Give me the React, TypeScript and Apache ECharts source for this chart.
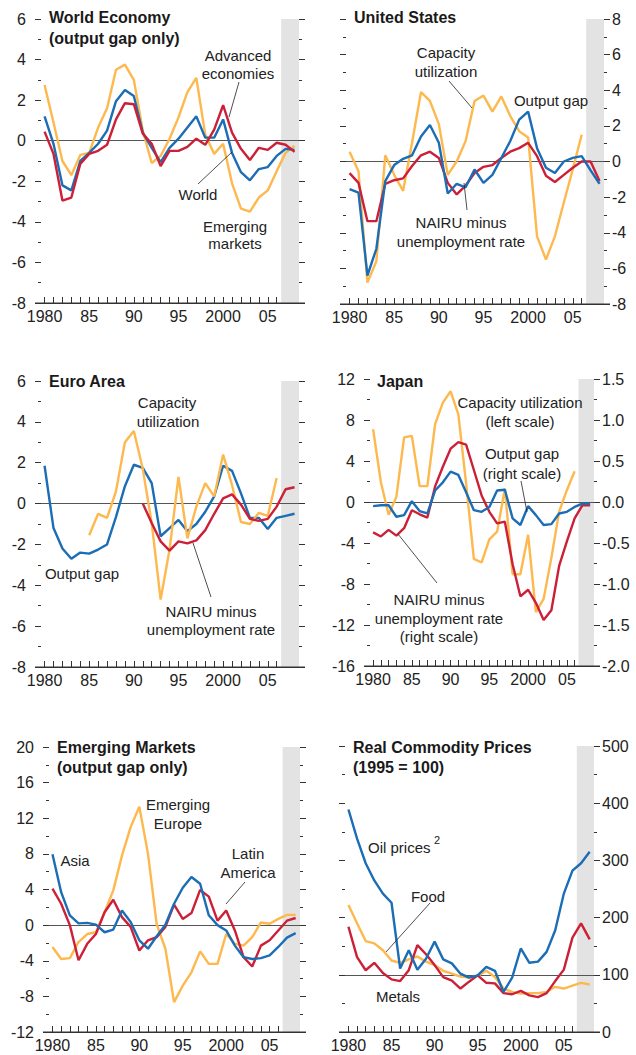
import React, { useEffect, useRef } from "react";
import * as echarts from "echarts";

const YEARS = [1980, 1981, 1982, 1983, 1984, 1985, 1986, 1987, 1988, 1989, 1990, 1991, 1992, 1993, 1994, 1995, 1996, 1997, 1998, 1999, 2000, 2001, 2002, 2003, 2004, 2005, 2006, 2007, 2008];
const X_LABELS = [1980, 1985, 1990, 1995, 2000, 2005];

// World Economy
const WORLD_EM = [2.75, 0.9, -1.0, -1.7, -0.7, -0.6, 0.65, 1.6, 3.5, 3.75, 3.0, 0.5, -1.1, -0.75, 0.1, 1.15, 2.4, 3.1, 0.3, -0.65, -0.15, -2.1, -3.35, -3.5, -2.8, -2.45, -1.5, -0.6, -0.25];
const WORLD_WORLD = [1.2, -0.15, -2.2, -2.45, -1.0, -0.6, -0.15, 0.5, 1.95, 2.5, 2.2, 0.4, -0.35, -1.05, -0.35, 0.1, 0.65, 1.2, 0.15, 0.15, 1.05, -0.6, -1.55, -1.95, -1.4, -1.3, -0.75, -0.4, -0.45];
const WORLD_ADV = [0.45, -0.65, -2.95, -2.8, -1.15, -0.65, -0.5, -0.2, 1.05, 1.85, 1.8, 0.35, -0.15, -1.25, -0.5, -0.5, -0.3, 0.1, -0.2, 0.55, 1.75, 0.4, -0.4, -0.95, -0.35, -0.45, -0.1, -0.2, -0.55];

// United States
const US_CAP = [0.55, -0.55, -6.8, -5.6, 0.35, -0.75, -1.65, 1.05, 3.9, 3.4, 2.1, -0.75, 0, 1.15, 3.4, 3.7, 2.8, 3.65, 2.55, 1.7, 1.35, -4.2, -5.5, -4.2, -2.3, -0.45, 1.5, null, null];
const US_GAP = [-1.55, -1.75, -6.4, -4.9, -1.1, -0.2, 0.15, 0.35, 1.4, 2.05, 1.05, -1.8, -1.25, -1.45, -0.45, -1.2, -0.75, 0.2, 1.15, 2.35, 2.8, 0.75, -0.35, -0.65, 0, 0.2, 0.3, -0.5, -1.25];
const US_NAIRU = [-0.65, -1.2, -3.35, -3.35, -1.25, -1.05, -0.95, -0.25, 0.35, 0.55, 0.2, -1.2, -1.85, -1.35, -0.65, -0.3, -0.2, 0.2, 0.55, 0.75, 1.05, 0.3, -0.8, -1.15, -0.75, -0.35, 0, 0, -1.1];

// Euro Area
const EU_GAP = [1.85, -1.2, -2.2, -2.7, -2.4, -2.45, -2.25, -2.0, -0.65, 0.85, 1.9, 1.75, 1.0, -1.6, -1.2, -0.8, -1.35, -1.0, -0.4, 0.35, 1.85, 1.6, 0.5, -0.7, -0.7, -1.25, -0.7, -0.6, -0.5];
const EU_CAP = [null, null, null, null, null, -1.55, -0.5, -0.7, 0.6, 3.0, 3.55, 1.7, -0.95, -4.7, -2.25, 1.3, -1.7, -0.15, 1.0, 0.35, 2.4, 0.9, -0.9, -1.0, -0.45, -0.6, 1.25, null, null];
const EU_NAIRU = [null, null, null, null, null, null, null, null, null, null, null, 0, -0.95, -1.85, -2.3, -1.85, -1.95, -1.8, -1.3, -0.5, 0.25, 0.45, -0.05, -0.75, -0.85, -0.75, -0.15, 0.7, 0.8];

// Japan
const JP_CAP = [7.1, 1.95, -1.25, 0.5, 6.3, 6.45, 1.55, 1.55, 7.6, 9.7, 10.8, 8.55, 1.8, -5.55, -5.9, -3.65, -2.9, 1.3, -7.05, -7.05, -3.2, -10.75, -9.45, -5.45, -0.95, 1.15, 3.0, null, null];
const JP_GAP = [-0.05, -0.04, -0.04, -0.18, -0.16, 0.01, -0.11, -0.14, 0.14, 0.24, 0.37, 0.33, 0.12, -0.1, -0.12, -0.06, 0.14, 0.15, -0.2, -0.28, -0.05, -0.16, -0.28, -0.27, -0.14, -0.12, -0.06, -0.02, -0.02];
const JP_NAIRU = [-0.37, -0.42, -0.34, -0.41, -0.32, -0.1, -0.15, -0.19, 0.19, 0.43, 0.65, 0.73, 0.7, 0.39, 0.08, -0.12, -0.26, -0.24, -0.76, -1.15, -1.07, -1.23, -1.44, -1.32, -0.78, -0.48, -0.2, -0.04, -0.04];

// Emerging Markets
const EM_EUROPE = [-2.45, -3.8, -3.7, -1.9, -1.0, -0.8, 1.45, 3.9, 7.8, 11.0, 13.3, 8.0, 0.1, -2.65, -8.65, -6.8, -5.3, -2.95, -4.35, -4.35, -1.0, -2.1, -2.3, -1.35, 0.3, 0.15, 0.7, 1.15, 1.15];
const EM_ASIA = [7.95, 3.7, 1.1, 0.2, 0.25, 0.05, -0.8, -0.5, 1.65, 0.35, -1.7, -2.65, -1.25, 0.05, 2.4, 4.2, 5.4, 4.65, 1.1, 0, -0.6, -2.3, -3.6, -3.8, -3.7, -3.4, -2.45, -1.4, -0.9];
const EM_LATAM = [4.1, 2.4, 0, -3.95, -2.1, -1.0, 1.45, 2.85, 0.9, -0.2, -2.85, -1.7, -1.35, -0.2, 2.3, 0.7, 1.35, 3.95, 3.2, 0.5, 1.65, -0.6, -3.6, -4.65, -2.3, -1.7, -0.6, 0.5, 0.8];

// Real Commodity Prices (1995 = 100)
const OIL = [389, 338, 295, 265, 242, 226, 111, 143, 109, 128, 158, 127, 120, 102, 95, 99, 114, 107, 70, 95, 146, 121, 123, 140, 178, 242, 282, 295, 315];
const FOOD = [222, 190, 159, 155, 143, 125, 121, 127, 132, 123, 117, 107, 102, 97, 95, 98, 107, 96, 76, 70, 67, 68, 68, 70, 79, 76, 81, 86, 83];
const METALS = [184, 131, 108, 121, 103, 92, 89, 108, 152, 136, 117, 96, 90, 76, 88, 99, 86, 85, 68, 66, 72, 64, 61, 68, 89, 109, 165, 190, 162];

const BLUE = "#1b6db5";
const RED = "#cc1f38";
const ORANGE = "#fdb84e";
const AXIS = "#333333";
const FONT = "'Liberation Sans', Arial, sans-serif";

const GRIDS = [
  { left: 41, top: 19, width: 258, height: 284 },
  { left: 346, top: 19, width: 258, height: 285 },
  { left: 41, top: 381, width: 258, height: 286 },
  { left: 370, top: 379, width: 224, height: 287 },
  { left: 49, top: 747, width: 251, height: 285 },
  { left: 345, top: 746, width: 249, height: 286 },
];

type YSpec = { min: number; max: number; interval: number; labels: boolean; fmt?: (v: number) => string };
const Y_SPECS: [YSpec, YSpec][] = [
  [{ min: -8, max: 6, interval: 2, labels: true }, { min: -8, max: 6, interval: 2, labels: false }],
  [{ min: -8, max: 8, interval: 2, labels: false }, { min: -8, max: 8, interval: 2, labels: true }],
  [{ min: -8, max: 6, interval: 2, labels: true }, { min: -8, max: 6, interval: 2, labels: false }],
  [{ min: -16, max: 12, interval: 4, labels: true }, { min: -2, max: 1.5, interval: 0.5, labels: true, fmt: (v) => v.toFixed(1) }],
  [{ min: -12, max: 20, interval: 4, labels: true }, { min: -12, max: 20, interval: 4, labels: false }],
  [{ min: 0, max: 500, interval: 100, labels: false }, { min: 0, max: 500, interval: 100, labels: true }],
];

const pairs = (vals: (number | null)[]) => YEARS.map((y, i) => [y, vals[i]]);

function xLabel(v: number) {
  return v === 1980 || v === 2000 ? String(v) : String(v % 100).padStart(2, "0");
}

export default function App() {
  const ref = useRef<HTMLDivElement>(null);
  useEffect(() => {
    if (!ref.current) return;
    const chart = echarts.init(ref.current, null, { renderer: "svg" });

    const grid = GRIDS.map((g) => ({ ...g, containLabel: false }));
    const xAxis = GRIDS.map((_, i) => ({
      type: "value",
      gridIndex: i,
      min: 1979.6,
      max: 2008.5,
      axisLine: { show: true, onZero: false, lineStyle: { color: AXIS, width: 1 } },
      axisTick: { show: true, inside: true, length: 6, customValues: YEARS, lineStyle: { color: AXIS, width: 1 } },
      axisLabel: { show: true, customValues: X_LABELS, formatter: xLabel, color: "#222", fontSize: 16, fontFamily: FONT, margin: 5 },
      splitLine: { show: false },
    }));
    const yAxis: any[] = [];
    Y_SPECS.forEach((pair, i) => {
      pair.forEach((s, j) => {
        yAxis.push({
          type: "value",
          gridIndex: i,
          position: j === 0 ? "left" : "right",
          min: s.min,
          max: s.max,
          interval: s.interval,
          axisLine: { show: false },
          axisTick: { show: true, inside: false, length: 6, lineStyle: { color: AXIS, width: 1 } },
          minorTick: { show: true, splitNumber: 2, length: 3, lineStyle: { color: AXIS, width: 1 } },
          axisLabel: {
            show: s.labels,
            color: "#222",
            fontSize: 16,
            fontFamily: FONT,
            margin: j === 0 ? 15 : 8,
            formatter: s.fmt ? s.fmt : (v: number) => String(v),
          },
          splitLine: { show: false },
          minorSplitLine: { show: false },
        });
      });
    });

    const band = {
      silent: true,
      itemStyle: { color: "#e3e3e3" },
      data: [[{ xAxis: 2006.5 }, { xAxis: 2008.5 }]],
    };
    const base = (v: number) => ({
      silent: true,
      symbol: ["none", "none"],
      z: 1,
      label: { show: false },
      lineStyle: { color: "#555", width: 1, type: "solid" },
      data: [{ yAxis: v }],
    });

    const mk = (grid: number, side: number, vals: (number | null)[], color: string, extra: any = {}) => ({
      type: "line",
      xAxisIndex: grid,
      yAxisIndex: grid * 2 + side,
      data: pairs(vals),
      showSymbol: false,
      symbol: "none",
      silent: true,
      connectNulls: false,
      lineStyle: { width: 2.4, color },
      itemStyle: { color },
      ...extra,
    });

    const series = [
      mk(0, 0, WORLD_EM, ORANGE, { markArea: band, markLine: base(0) }),
      mk(0, 0, WORLD_WORLD, BLUE),
      mk(0, 0, WORLD_ADV, RED),
      mk(1, 0, US_CAP, ORANGE, { markArea: band, markLine: base(0) }),
      mk(1, 0, US_NAIRU, RED),
      mk(1, 0, US_GAP, BLUE),
      mk(2, 0, EU_GAP, BLUE, { markArea: band, markLine: base(0) }),
      mk(2, 0, EU_CAP, ORANGE),
      mk(2, 0, EU_NAIRU, RED),
      mk(3, 0, JP_CAP, ORANGE, { markArea: band, markLine: base(0) }),
      mk(3, 1, JP_NAIRU, RED),
      mk(3, 1, JP_GAP, BLUE),
      mk(4, 0, EM_EUROPE, ORANGE, { markArea: band, markLine: base(0) }),
      mk(4, 0, EM_LATAM, RED),
      mk(4, 0, EM_ASIA, BLUE),
      mk(5, 0, FOOD, ORANGE, { markArea: band, markLine: base(100) }),
      mk(5, 0, METALS, RED),
      mk(5, 0, OIL, BLUE),
    ];

    const txt = (text: string, x: number, y: number, opts: any = {}) => ({
      type: "text",
      x,
      y,
      silent: true,
      z: 100,
      style: {
        text,
        fill: opts.fill || "#222",
        font: `${opts.bold ? "bold " : ""}${opts.size || 15}px ${FONT}`,
        textAlign: opts.align || "center",
        textVerticalAlign: "middle",
      },
    });
    const lead = (x1: number, y1: number, x2: number, y2: number) => ({
      type: "line",
      silent: true,
      z: 100,
      shape: { x1, y1, x2, y2 },
      style: { stroke: "#222", lineWidth: 0.8 },
    });
    const title = (text: string, x: number, y: number) => txt(text, x, y, { bold: true, size: 16, align: "left", fill: "#1a1a1a" });

    const axisExt: any[] = [];
    GRIDS.forEach((g) => {
      const yb = g.top + g.height;
      axisExt.push({
        type: "line",
        silent: true,
        z: 50,
        shape: { x1: g.left - 6, y1: yb, x2: g.left + g.width + 6, y2: yb },
        style: { stroke: AXIS, lineWidth: 1 },
      });
    });

    const graphic = [
      ...axisExt,
      // Panel 1
      title("World Economy", 49, 17),
      title("(output gap only)", 49, 38),
      txt("Advanced", 238, 55),
      txt("economies", 238, 73),
      lead(239, 82, 229, 117),
      txt("World", 198, 194),
      lead(198, 184, 232, 152),
      txt("Emerging", 235, 226),
      txt("markets", 235, 243),
      // Panel 2
      title("United States", 354, 17),
      txt("Capacity", 446, 52),
      txt("utilization", 446, 71),
      lead(449, 81, 472, 108),
      txt("Output gap", 551, 100),
      txt("NAIRU minus", 461, 222),
      txt("unemployment rate", 461, 241),
      lead(467, 210, 464, 183),
      // Panel 3
      title("Euro Area", 49, 381),
      txt("Capacity", 167, 402),
      txt("utilization", 168, 421),
      txt("Output gap", 82, 573),
      txt("NAIRU minus", 211, 611),
      txt("unemployment rate", 211, 629),
      lead(211, 597, 193, 543),
      // Panel 4
      title("Japan", 377, 381),
      txt("Capacity utilization", 520, 402),
      txt("(left scale)", 520, 421),
      txt("Output gap", 522, 453),
      txt("(right scale)", 522, 473),
      lead(521, 481, 527, 512),
      txt("NAIRU minus", 439, 599),
      txt("unemployment rate", 439, 618),
      txt("(right scale)", 439, 636),
      lead(437, 583, 398, 534),
      // Panel 5
      title("Emerging Markets", 57, 747),
      title("(output gap only)", 57, 767),
      txt("Emerging", 178, 804),
      txt("Europe", 178, 823),
      txt("Asia", 75, 860),
      txt("Latin", 248, 853),
      txt("America", 248, 872),
      lead(245, 882, 226, 904),
      // Panel 6
      title("Real Commodity Prices", 353, 747),
      title("(1995 = 100)", 353, 767),
      txt("Oil prices", 368, 847, { align: "left" }),
      txt("2", 434, 840, { align: "left", size: 11 }),
      txt("Food", 428, 896),
      lead(430, 903, 386, 952),
      txt("Metals", 398, 996),
    ];

    chart.setOption({
      animation: false,
      backgroundColor: "#ffffff",
      grid,
      xAxis,
      yAxis,
      series,
      graphic,
    });
    return () => chart.dispose();
  }, []);

  return <div ref={ref} style={{ position: "absolute", left: 0, top: 0, width: 636, height: 1055, background: "#fff" }} />;
}
